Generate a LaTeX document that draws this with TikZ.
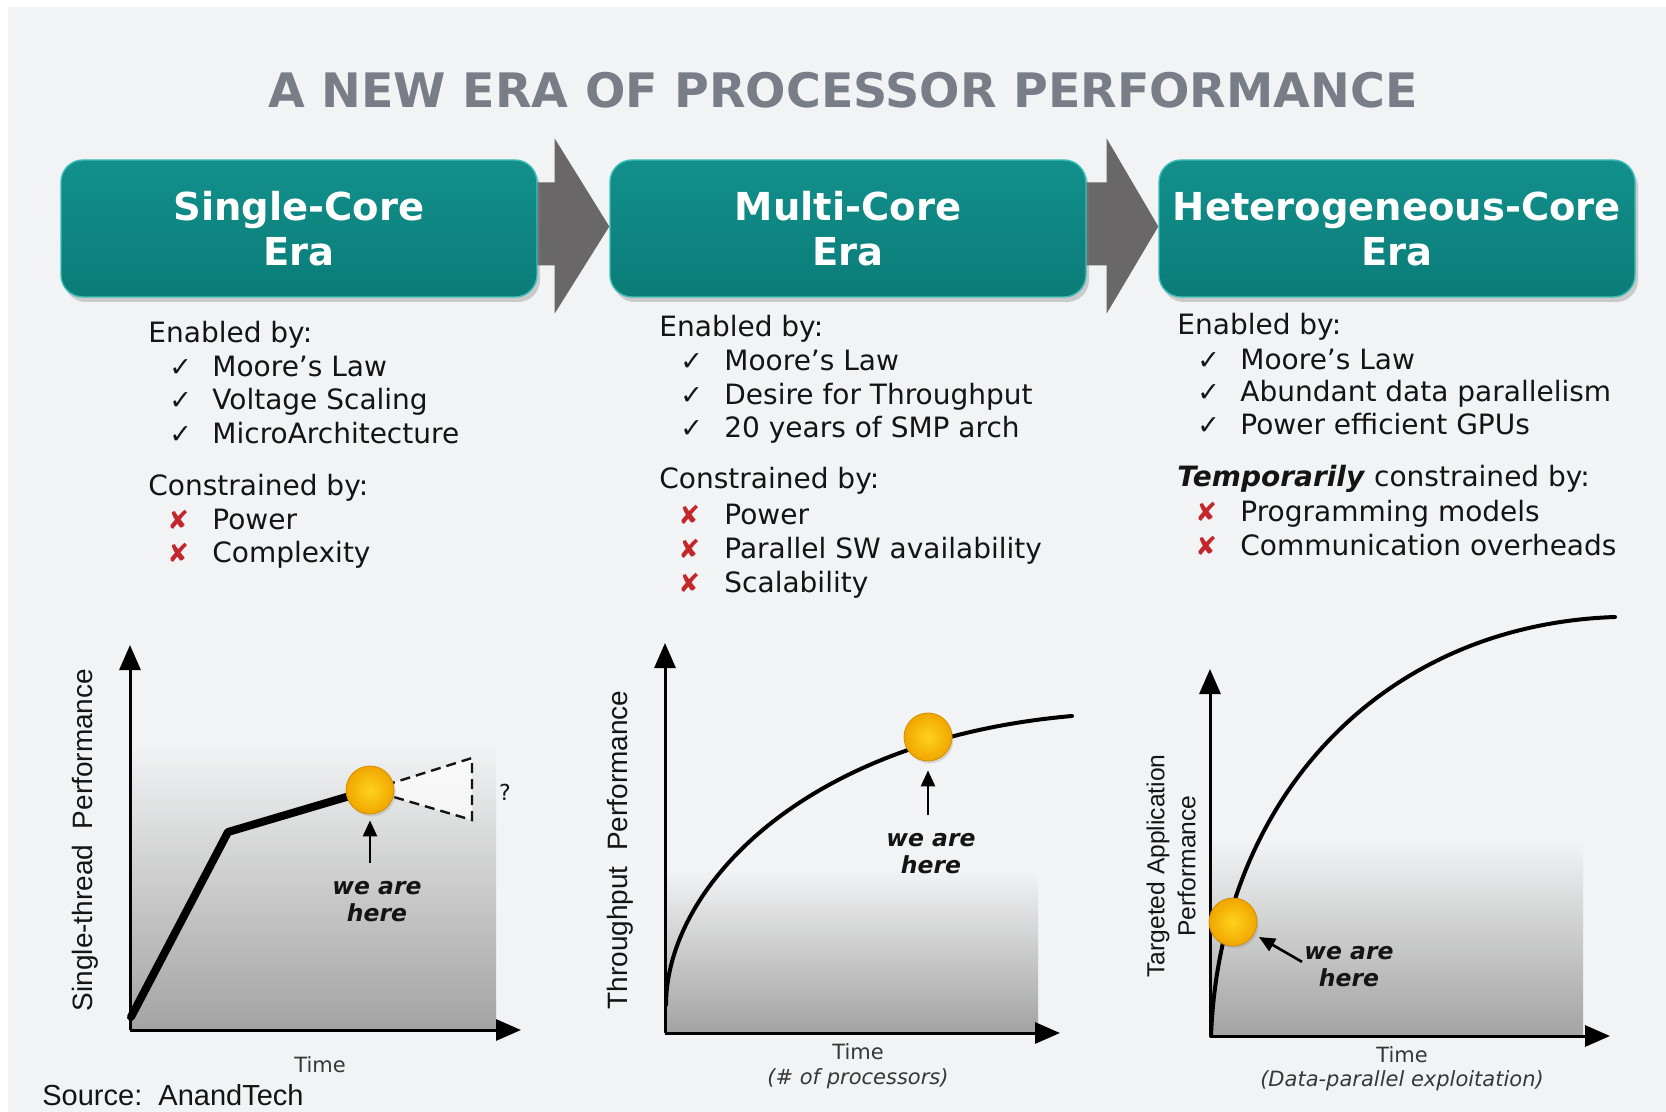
\documentclass[tikz,border=0pt]{standalone}
\usepackage{fontspec}
\setmainfont{DejaVu Sans}
\newfontfamily\arialf{Liberation Sans}
\usetikzlibrary{arrows.meta,shadows,calc,backgrounds}
\definecolor{bgc}{HTML}{F2F3F4}
\definecolor{titlegray}{HTML}{787D87}
\definecolor{tealtop}{HTML}{12908C}
\definecolor{tealbot}{HTML}{0B7C78}
\definecolor{tealrim}{HTML}{3DBDB6}
\definecolor{arrowc}{HTML}{6A6768}
\definecolor{txt}{HTML}{141414}
\definecolor{redx}{HTML}{C3262B}
\definecolor{shadec}{HTML}{A3A3A3}
\definecolor{dotin}{HTML}{FFD21A}
\definecolor{dotout}{HTML}{F0A600}
\definecolor{dotrim}{HTML}{D38E00}
\begin{document}
\begin{tikzpicture}[x=0.5pt,y=-0.5pt,
  titlef/.style={font=\fontsize{23.75}{28}\selectfont\bfseries, text=titlegray, inner sep=0pt},
  erabox/.style={rounded corners=11pt, minimum width=238pt, minimum height=68.5pt,
    top color=tealtop, bottom color=tealbot, draw=tealrim, line width=0.7pt,
    text=white, font=\fontsize{19.25}{22.5}\selectfont\bfseries, align=center, inner sep=0pt,
    drop shadow={opacity=0.35, shadow xshift=1.5pt, shadow yshift=-2.5pt}},
  lst/.style={anchor=base west, inner sep=0pt, font=\fontsize{14}{16}\selectfont, text=txt},
  chk/.style={lst, font=\fontsize{13.5}{16}\selectfont},
  crs/.style={lst, text=redx, font=\fontsize{13}{16}\selectfont},
  axis/.style={line width=1.5pt, -{Triangle[width=10.5pt,length=12.5pt]}},
  ptr/.style={line width=1.3pt, -{Triangle[width=7pt,length=8pt]}},
  dot/.style={circle, minimum size=24pt, inner sep=0pt, shading=radial, inner color=dotin,
    outer color=dotout, draw=dotrim, line width=0.4pt,
    drop shadow={opacity=0.25, shadow xshift=0.8pt, shadow yshift=-1.2pt}},
  here/.style={font=\fontsize{11.75}{13.5}\selectfont\bfseries\itshape, align=center, inner sep=0pt, text=txt},
  timel/.style={font=\fontsize{10.5}{12}\selectfont, text=txt!85, inner sep=0pt},
  ylab/.style={font=\arialf\fontsize{14}{16}\selectfont, text=txt, rotate=90, inner sep=0pt, align=center},
  curvethick/.style={line width=4pt, line join=round, line cap=round},
  curvethin/.style={line width=2pt, line cap=round}
]
\useasboundingbox (0,0) rectangle (1666,1112);
\begin{scope}[on background layer]
\fill[white] (0,0) rectangle (1666,1112);
\fill[bgc] (8,7) rectangle (1666,1112);
\end{scope}

% title
\node[titlef] (title) at (843,90) {A NEW ERA OF PROCESSOR PERFORMANCE};

% era boxes
\node[erabox] (b1) at (299,228.5) {Single-Core\\Era};
\node[erabox] (b2) at (848,228.5) {Multi-Core\\Era};
\node[erabox] (b3) at (1397,228.5) {Heterogeneous-Core\\Era};

\begin{scope}[on background layer]
\fill[arrowc] ($(b1.east)+(-30,-46)$) -- ($(b1.east)+(17,-46)$) -- ($(b1.east)+(17,-90)$)
  -- ($(b2.west)+(0,-2)$) -- ($(b1.east)+(17,85)$) -- ($(b1.east)+(17,37)$) -- ($(b1.east)+(-30,37)$) -- cycle;
\fill[arrowc] ($(b2.east)+(-30,-46)$) -- ($(b2.east)+(20,-46)$) -- ($(b2.east)+(20,-90)$)
  -- ($(b3.west)+(0,-2)$) -- ($(b2.east)+(20,85)$) -- ($(b2.east)+(20,37)$) -- ($(b2.east)+(-30,37)$) -- cycle;
\end{scope}

% column 1 lists
\node[lst] (e1) at (148,343) {Enabled by:};
\node[chk] (e1c1) at (169,377) {✓};
\node[lst] (e1i1) at (212,377) {Moore’s Law};
\node[chk] (e1c2) at (169,410) {✓};
\node[lst] (e1i2) at (212,410) {Voltage Scaling};
\node[chk] (e1c3) at (169,444) {✓};
\node[lst] (e1i3) at (212,444) {MicroArchitecture};
\node[lst] (k1) at (148,495) {Constrained by:};
\node[crs] (k1x1) at (167,530) {✘};
\node[lst] (k1i1) at (212,530) {Power};
\node[crs] (k1x2) at (167,563) {✘};
\node[lst] (k1i2) at (212,563) {Complexity};

% column 2 lists
\node[lst] (e2) at (659,337) {Enabled by:};
\node[chk] (e2c1) at (680,371) {✓};
\node[lst] (e2i1) at (724,371) {Moore’s Law};
\node[chk] (e2c2) at (680,405) {✓};
\node[lst] (e2i2) at (724,405) {Desire for Throughput};
\node[chk] (e2c3) at (680,438) {✓};
\node[lst] (e2i3) at (724,438) {20 years of SMP arch};
\node[lst] (k2) at (659,489) {Constrained by:};
\node[crs] (k2x1) at (678,524) {✘};
\node[lst] (k2i1) at (724,524) {Power};
\node[crs] (k2x2) at (678,559) {✘};
\node[lst] (k2i2) at (724,559) {Parallel SW availability};
\node[crs] (k2x3) at (678,592) {✘};
\node[lst] (k2i3) at (724,592) {Scalability};

% column 3 lists
\node[lst] (e3) at (1177,335) {Enabled by:};
\node[chk] (e3c1) at (1197,370) {✓};
\node[lst] (e3i1) at (1240,370) {Moore’s Law};
\node[chk] (e3c2) at (1197,402) {✓};
\node[lst] (e3i2) at (1240,402) {Abundant data parallelism};
\node[chk] (e3c3) at (1197,435) {✓};
\node[lst] (e3i3) at (1240,435) {Power efficient GPUs};
\node[lst] (k3) at (1177,487) {\textbf{\textit{Temporarily}} constrained by:};
\node[crs] (k3x1) at (1195,522) {✘};
\node[lst] (k3i1) at (1240,522) {Programming models};
\node[crs] (k3x2) at (1195,555) {✘};
\node[lst] (k3i2) at (1240,555) {Communication overheads};

% ---------------- chart 1
\coordinate (o1) at (130,1030);
\coordinate (ya1) at (130,645);
\coordinate (xa1) at (521,1030);
\coordinate (c1) at (370,790);
\fill[top color=bgc, bottom color=shadec] (130,744) rectangle (496,1030);
\draw[axis] (o1) -- (ya1);
\draw[axis] (o1) -- (xa1);
\draw[curvethick] (131,1017) -- (228,832) -- (c1);
\filldraw[fill=white, fill opacity=0.7, draw=txt, line width=1.2pt, dash pattern=on 5pt off 3pt]
  (c1) -- (472,758) -- (472,820) -- cycle;
\node[dot] (d1) at (c1) {};
\node[font=\fontsize{11}{12}\selectfont, text=txt, inner sep=0pt] (q1) at (505,792) {?};
\node[here] (h1) at (377,901.5) {we are\\here};
\draw[ptr] ($(h1.north -| d1.south)+(0,-18)$) -- ($(d1.south)+(0,6)$);
\node[timel] (t1) at (320,1065) {Time};
\node[ylab] (y1) at (85,840) {Single-thread\ \ Performance};

% ---------------- chart 2
\coordinate (o2) at (665,1033);
\coordinate (ya2) at (665,643);
\coordinate (xa2) at (1060,1033);
\fill[top color=bgc, bottom color=shadec] (665,870) rectangle (1038,1033);
\draw[axis] (o2) -- (ya2);
\draw[axis] (o2) -- (xa2);
\draw[curvethin] (666,1005) .. controls (666,890) and (800,740) .. (1072,716);
\node[dot] (d2) at (928,737) {};
\node[here] (h2) at (931,853.5) {we are\\here};
\draw[ptr] ($(h2.north -| d2.south)+(0,-18)$) -- ($(d2.south)+(0,9)$);
\node[timel] (t2) at (858,1052) {Time};
\node[timel, font=\fontsize{10.5}{12}\selectfont\itshape] (t2b) at (858,1079) {(\# of processors)};
\node[ylab] (y2) at (620,850) {Throughput\ \ Performance};

% ---------------- chart 3
\coordinate (o3) at (1210,1036);
\coordinate (ya3) at (1210,669);
\coordinate (xa3) at (1610,1036);
\fill[top color=bgc, bottom color=shadec] (1210,840) rectangle (1583,1036);
\draw[axis] (o3) -- (ya3);
\draw[axis] (o3) -- (xa3);
\draw[curvethin] (1211,1036) .. controls (1220,800) and (1380,625) .. (1615,617);
\node[dot] (d3) at (1233,922) {};
\node[here] (h3) at (1349,966.5) {we are\\here};
\draw[ptr, shorten >=15pt] ($(h3.north west)+(-2,16)$) -- (d3.center);
\node[timel] (t3) at (1402,1055) {Time};
\node[timel, font=\fontsize{10.5}{12}\selectfont\itshape] (t3b) at (1402,1081) {(Data-parallel exploitation)};
\node[ylab, font=\arialf\fontsize{12.3}{15.5}\selectfont] (y3) at (1171,866) {Targeted Application\\Performance};

% source
\node[anchor=west, font=\arialf\fontsize{14.5}{16}\selectfont, text=txt, inner sep=0pt] (src) at (42,1095) {Source:\ \ AnandTech};
\end{tikzpicture}
\end{document}
